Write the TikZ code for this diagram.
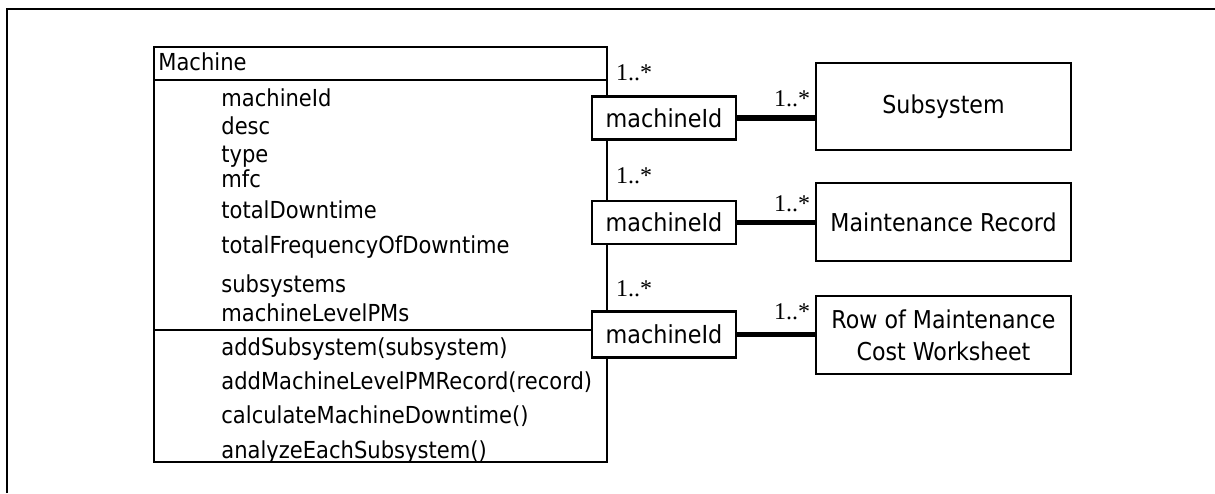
\documentclass[tikz,border=0pt]{standalone}
\usepackage{fontspec}
\setmainfont{DejaVu Sans}[FakeStretch = 0.9]
\newfontfamily\multfont{Liberation Serif}
\usetikzlibrary{positioning, calc}

\begin{document}
\begin{tikzpicture}[x = 0.5pt, y = -0.5pt]
  \tikzset{
    member/.style = {anchor = west, inner sep = 0pt, font = \fontsize{11.7}{13}\selectfont, text height = 8.4pt, text depth = 2.4pt},
    keybox/.style = {draw, line width = 1.3pt, fill = white, minimum width = 72pt, minimum height = 21.5pt, inner sep = 0pt, font = \fontsize{12.4}{14}\selectfont},
    classbox/.style = {draw, line width = 1.4pt, minimum width = 127.5pt, inner sep = 0pt, align = center, font = \fontsize{12.3}{16}\selectfont},
    assoc/.style = {line width = 2.8pt},
    mult/.style = {anchor = base west, inner sep = 0pt, font = \multfont\fontsize{12}{13}\selectfont}
  }
  \useasboundingbox (0,0) rectangle (1215,493);

  \draw[line width = 1.3pt] (7,493) -- (7,9) -- (1215,9);

  % Machine class
  \draw[line width = 0.75pt] (154,47) rectangle (607,462);
  \draw[line width = 0.75pt] (154,80) -- (607,80) (154,330) -- (607,330);
  \node[member] (machinetitle) at (158,64) {Machine};
  \foreach \y/\t [count = \i] in {100/machineId, 128/desc, 156/type, 181/mfc, 212/totalDowntime,
      247/totalFrequencyOfDowntime, 286/subsystems, 315/machineLevelPMs,
      349/addSubsystem(subsystem), 383/addMachineLevelPMRecord(record),
      417/calculateMachineDowntime(), 452/analyzeEachSubsystem()}
    \node[member] (member\i) at (221,\y) {\t};

  \node[keybox] (key1) at (664,118) {machineId};
  \node[keybox] (key2) at (664,222.5) {machineId};
  \node[keybox, minimum height = 23pt] (key3) at (664,334.5) {machineId};

  \node[classbox, minimum height = 43.5pt] (subsystem) at (943.5,106.5) {Subsystem};
  \node[classbox, minimum height = 39pt] (record) at (943.5,222) {Maintenance Record};
  \node[classbox, minimum height = 39pt] (worksheet) at (943.5,335) {Row of Maintenance\\Cost Worksheet};

  \draw[assoc] (key1.east) -- (key1.east -| subsystem.west);
  \draw[assoc] (key2.east) -- (key2.east -| record.west);
  \draw[assoc] (key3.east) -- (key3.east -| worksheet.west);

  \node[mult] (multkey1) at ([shift = {(25,-15)}] key1.north west) {1..*};
  \node[mult] (multkey2) at ([shift = {(25,-16)}] key2.north west) {1..*};
  \node[mult] (multkey3) at ([shift = {(25,-14)}] key3.north west) {1..*};
  \node[mult, anchor = base east] (multsub) at ([shift = {(-4,-12)}] subsystem.west |- key1.east) {1..*};
  \node[mult, anchor = base east] (multrec) at ([shift = {(-4,-11)}] record.west |- key2.east) {1..*};
  \node[mult, anchor = base east] (multrow) at ([shift = {(-4,-15)}] worksheet.west |- key3.east) {1..*};
\end{tikzpicture}
\end{document}
